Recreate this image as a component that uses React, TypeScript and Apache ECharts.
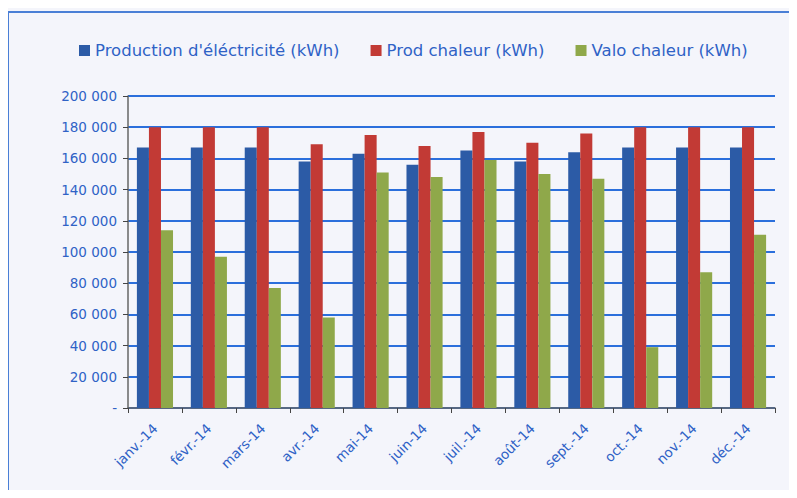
import React, { useEffect, useRef } from "react";
import * as echarts from "echarts";

const categories = ["janv.-14", "févr.-14", "mars-14", "avr.-14", "mai-14", "juin-14", "juil.-14", "août-14", "sept.-14", "oct.-14", "nov.-14", "déc.-14"];
const production = [167000, 167000, 167000, 158000, 163000, 156000, 165000, 158000, 164000, 167000, 167000, 167000];
const prodChaleur = [180000, 180000, 180000, 169000, 175000, 168000, 177000, 170000, 176000, 180000, 180000, 180000];
const valoChaleur = [114000, 97000, 77000, 58000, 151000, 148000, 159000, 150000, 147000, 39000, 87000, 111000];
const seriesNames = ["Production d'éléctricité (kWh)", "Prod chaleur (kWh)", "Valo chaleur (kWh)"];

const textBlue = "#2f62c6";
const font = "'DejaVu Sans', 'Open Sans', sans-serif";

function fmt(v: number): string {
  if (v === 0) return "-";
  return String(v).replace(/\B(?=(\d{3})+(?!\d))/g, " ");
}

export default function App() {
  const ref = useRef<HTMLDivElement>(null);
  useEffect(() => {
    if (!ref.current) return;
    const chart = echarts.init(ref.current, undefined, { renderer: "svg" });
    chart.setOption({
      animation: false,
      backgroundColor: "#f4f5fb",
      textStyle: { fontFamily: font },
      graphic: [
        {
          type: "rect",
          shape: { x: 8, y: 12, width: 820, height: 520 },
          style: { fill: "none", stroke: "#4a7fd6", lineWidth: 2 },
          silent: true,
        },
      ],
      legend: {
        top: 37,
        left: 74,
        itemWidth: 11,
        itemHeight: 11,
        itemGap: 31,
        icon: "rect",
        textStyle: { color: textBlue, fontSize: 16.5, fontFamily: font },
        data: seriesNames,
      },
      grid: { left: 128, right: 22, top: 96, bottom: 90, containLabel: false },
      xAxis: {
        type: "category",
        data: categories,
        axisLine: { show: true, lineStyle: { color: "#666", width: 1.5 } },
        axisTick: { show: true, length: 5, lineStyle: { color: "#444" } },
        axisLabel: { rotate: 45, color: textBlue, fontSize: 13.5, fontFamily: font, margin: 18, interval: 0 },
      },
      yAxis: {
        type: "value",
        min: 0,
        max: 200000,
        interval: 20000,
        axisLine: { show: true, lineStyle: { color: "#666", width: 1.5 } },
        axisTick: { show: true, length: 5, lineStyle: { color: "#444" } },
        splitLine: { show: true, lineStyle: { color: "#2b6fdc", width: 2 } },
        axisLabel: { color: textBlue, fontSize: 13.5, fontFamily: font, margin: 11, formatter: fmt },
      },
      series: [
        { name: seriesNames[0], type: "bar", data: production, itemStyle: { color: "#2c5ba6" }, barGap: "0%", barCategoryGap: "33%" },
        { name: seriesNames[1], type: "bar", data: prodChaleur, itemStyle: { color: "#c23a35" }, barGap: "0%", barCategoryGap: "33%" },
        { name: seriesNames[2], type: "bar", data: valoChaleur, itemStyle: { color: "#8fa84a" }, barGap: "0%", barCategoryGap: "33%" },
      ],
    });
    return () => chart.dispose();
  }, []);
  return <div ref={ref} style={{ width: 797, height: 498, margin: -8 }} />;
}
